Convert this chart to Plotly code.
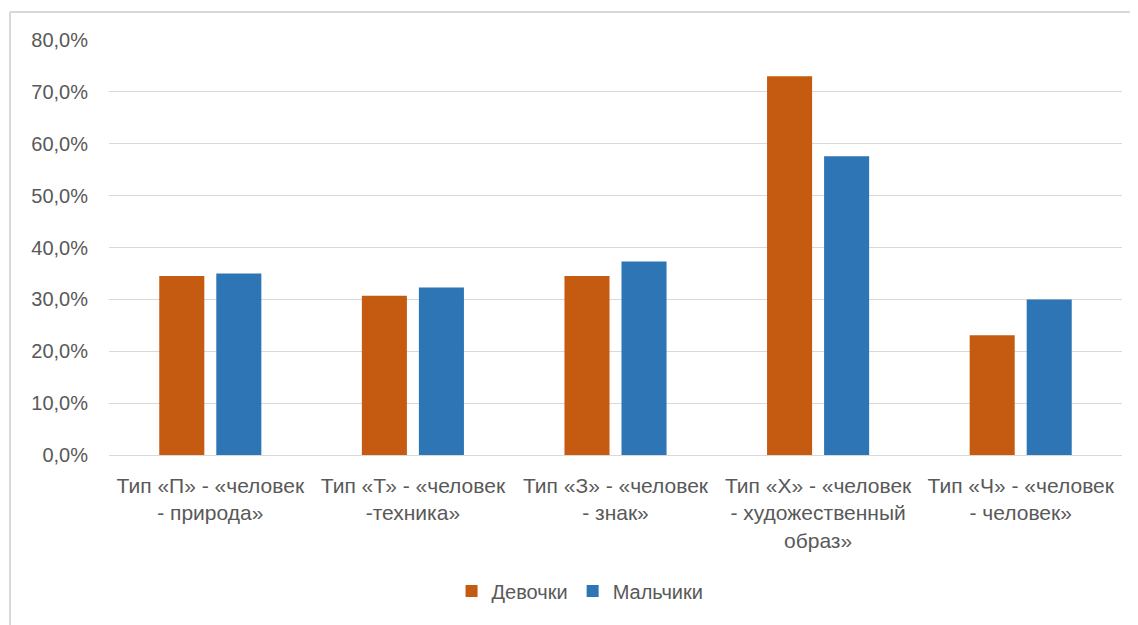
import plotly.graph_objects as go

categories = [
    "Тип «П» - «человек<br>- природа»",
    "Тип «Т» - «человек<br>-техника»",
    "Тип «З» - «человек<br>- знак»",
    "Тип «Х» - «человек<br>- художественный<br>образ»",
    "Тип «Ч» - «человек<br>- человек»",
]
girls = [0.345, 0.307, 0.345, 0.730, 0.231]
boys = [0.350, 0.323, 0.373, 0.576, 0.300]
series_names = ["Девочки", "Мальчики"]
tick_vals = [0, 0.1, 0.2, 0.3, 0.4, 0.5, 0.6, 0.7, 0.8]

# page body has an 8px margin; figure sized to fill the window
OFF = 8
W, H = 1138 - OFF, 625 - OFF
ml, mt = 109 - OFF, 40 - OFF
pw, ph = 1013, 415
mr, mb = W - ml - pw, H - mt - ph

FONT = "Liberation Sans, Arial, sans-serif"
GRAY = "#595959"

fig = go.Figure()
fig.add_trace(go.Bar(x=categories, y=girls, name=series_names[0],
                     marker=dict(color="#C55A11", line=dict(width=0))))
fig.add_trace(go.Bar(x=categories, y=boys, name=series_names[1],
                     marker=dict(color="#2E75B6", line=dict(width=0))))

top_y = 1 + (mt - (12 - OFF)) / ph
left_x = (10 - OFF - ml) / pw

fig.update_layout(
    width=W, height=H,
    margin=dict(l=ml, r=mr, t=mt, b=mb, autoexpand=False),
    paper_bgcolor="white", plot_bgcolor="white",
    separators=", ",
    barmode="group", bargap=0.437, bargroupgap=0.21,
    font=dict(family=FONT, color=GRAY, size=20),
    showlegend=True,
    legend=dict(orientation="h", x=0.465, xanchor="center",
                y=-(591 - OFF - (mt + ph)) / ph, yanchor="middle",
                font=dict(size=20, color=GRAY, family=FONT), itemwidth=30,
                traceorder="normal"),
    xaxis=dict(showline=False, ticks="", tickangle=0, ticklabelstandoff=16,
               tickfont=dict(size=21, color=GRAY, family=FONT)),
    yaxis=dict(range=[0, 0.8], tickvals=tick_vals, tickformat=".1%",
               showgrid=True, gridcolor="#D9D9D9", gridwidth=1.3,
               zeroline=True, zerolinecolor="#D9D9D9", zerolinewidth=1.3,
               showline=False, ticks="", ticklabelstandoff=20,
               tickfont=dict(size=20, color=GRAY, family=FONT)),
    shapes=[
        dict(type="line", xref="paper", yref="paper",
             x0=left_x, x1=(W + 5 - ml) / pw,
             y0=top_y, y1=top_y,
             line=dict(color="#D9D9D9", width=2)),
        dict(type="line", xref="paper", yref="paper",
             x0=left_x, x1=left_x,
             y0=top_y, y1=-(mb + 5) / ph,
             line=dict(color="#D9D9D9", width=2)),
    ],
)

fig.write_html("out.html")
